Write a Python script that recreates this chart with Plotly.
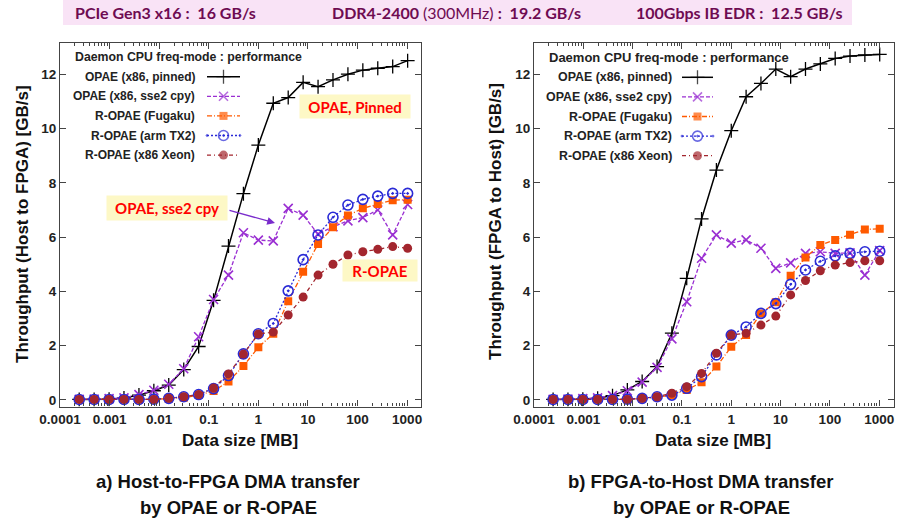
import plotly.graph_objects as go

# ---------------- data ----------------
sizes_mb = [0.000244, 0.000488, 0.000977, 0.00195, 0.00391, 0.00781, 0.0156, 0.0313,
            0.0625, 0.125, 0.25, 0.5, 1, 2, 4, 8, 16, 32, 64, 128, 256, 512, 1024]

series_names = ["OPAE (x86, pinned)", "OPAE (x86, sse2 cpy)", "R-OPAE (Fugaku)",
                "R-OPAE (arm TX2)", "R-OPAE (x86 Xeon)"]

# a) Host-to-FPGA
pinned_h2f = [0.02, 0.02, 0.03, 0.07, 0.18, 0.34, 0.55, 1.12, 1.97, 3.67, 5.67, 7.60,
              9.39, 10.93, 11.14, 11.70, 11.54, 11.79, 12.00, 12.15, 12.22, 12.28, 12.50]
sse2_h2f = [0.02, 0.03, 0.05, 0.08, 0.20, 0.36, 0.58, 1.15, 2.33, 3.70, 4.60, 6.16,
            5.89, 5.86, 7.06, 6.81, 6.11, 6.38, 6.60, 6.72, 7.00, 6.08, 7.20]
fugaku_h2f = [0.02, 0.02, 0.02, 0.02, 0.02, 0.03, 0.05, 0.08, 0.18, 0.33, 0.68, 1.25,
              1.94, 2.44, 3.64, 4.72, 5.75, 6.36, 6.80, 7.06, 7.22, 7.36, 7.38]
tx2_h2f = [0.02, 0.02, 0.02, 0.02, 0.02, 0.03, 0.06, 0.12, 0.20, 0.42, 0.90, 1.70,
           2.44, 2.82, 4.02, 5.17, 6.08, 6.73, 7.18, 7.39, 7.51, 7.61, 7.61]
xeon_h2f = [0.02, 0.02, 0.02, 0.02, 0.02, 0.02, 0.06, 0.12, 0.20, 0.44, 0.96, 1.69,
            2.43, 2.50, 3.13, 3.79, 4.60, 5.00, 5.34, 5.46, 5.55, 5.65, 5.59]

# b) FPGA-to-Host
pinned_f2h = [0.02, 0.02, 0.03, 0.06, 0.16, 0.37, 0.68, 1.23, 2.46, 4.48, 6.67, 8.47,
              9.92, 11.17, 11.66, 12.19, 11.91, 12.19, 12.38, 12.58, 12.67, 12.71, 12.73]
sse2_f2h = [0.02, 0.03, 0.05, 0.08, 0.16, 0.34, 0.66, 1.20, 2.25, 3.62, 5.22, 6.08,
            5.78, 5.90, 5.59, 4.85, 5.05, 5.40, 5.46, 5.40, 5.42, 4.60, 5.50]
fugaku_f2h = [0.02, 0.02, 0.02, 0.02, 0.02, 0.03, 0.05, 0.10, 0.18, 0.37, 0.65, 1.23,
              1.96, 2.39, 3.19, 3.60, 4.58, 5.25, 5.71, 5.89, 6.09, 6.28, 6.31]
tx2_f2h = [0.02, 0.02, 0.02, 0.02, 0.02, 0.03, 0.06, 0.12, 0.18, 0.43, 0.86, 1.66,
           2.39, 2.69, 3.19, 3.55, 4.26, 4.79, 5.11, 5.31, 5.40, 5.46, 5.48]
xeon_f2h = [0.02, 0.02, 0.02, 0.02, 0.02, 0.02, 0.06, 0.12, 0.25, 0.49, 0.98, 1.72,
            2.39, 2.46, 2.76, 3.09, 3.87, 4.40, 4.76, 4.97, 5.06, 5.13, 5.13]

x_tick_vals = [0.0001, 0.001, 0.01, 0.1, 1, 10, 100, 1000]
x_tick_text = ["0.0001", "0.001", "0.01", "0.1", "1", "10", "100", "1000"]
y_tick_vals = [0, 2, 4, 6, 8, 10, 12]

NB = "\u00a0"
banner_texts = ["<b>PCIe Gen3 x16 :" + NB + NB + "16 GB/s</b>",
                "<b>DDR4-2400</b> (300MHz) <b>:" + NB + NB + "19.2 GB/s</b>",
                "<b>100Gbps IB EDR :" + NB + NB + "12.5 GB/s</b>"]

# ---------------- helpers ----------------
W, H = 898, 522
def fx(px):
    return px / W
def fy(py):
    return 1 - py / H

def text_ann(px, py, text, font, xanchor="center", yanchor="middle", **kw):
    d = dict(x=fx(px), y=fy(py), xref="paper", yref="paper", xanchor=xanchor, yanchor=yanchor,
             showarrow=False, text=text, font=font)
    d.update(kw)
    return d

styles = [
    dict(color="#000000", dash="solid", width=1.5,
         marker=dict(symbol="cross-thin", size=10, color="#000000", line=dict(color="#000000", width=1.3))),
    dict(color="#9a2fd2", dash="4px,2px", width=1.3,
         marker=dict(symbol="x-thin", size=9, color="#9a2fd2", line=dict(color="#9a2fd2", width=1.6))),
    dict(color="#ff5a00", dash="5px,2px,1px,2px", width=1.3,
         marker=dict(symbol="square", size=8, color="#ff5a00", line=dict(width=0))),
    dict(color="#2a2ad6", dash="2px,2px", width=1.3,
         marker=dict(symbol="circle-open-dot", size=10, color="#2a2ad6", line=dict(color="#2a2ad6", width=1.6))),
    dict(color="#a3262e", dash="4px,3px,1px,3px", width=1.3,
         marker=dict(symbol="circle", size=9, color="#a3262e", line=dict(width=0))),
]

fig = go.Figure()

left = [pinned_h2f, sse2_h2f, fugaku_h2f, tx2_h2f, xeon_h2f]
right = [pinned_f2h, sse2_f2h, fugaku_f2h, tx2_f2h, xeon_f2h]

for vals, st, nm in zip(left, styles, series_names):
    fig.add_trace(go.Scatter(x=sizes_mb, y=vals, mode="lines+markers", name=nm,
                             line=dict(color=st["color"], dash=st["dash"], width=st["width"]),
                             marker=st["marker"], xaxis="x", yaxis="y", showlegend=False))
for vals, st, nm in zip(right, styles, series_names):
    fig.add_trace(go.Scatter(x=sizes_mb, y=vals, mode="lines+markers", name=nm,
                             line=dict(color=st["color"], dash=st["dash"], width=st["width"]),
                             marker=st["marker"], xaxis="x2", yaxis="y2", showlegend=False))

# legend samples (drawn in an overlay pixel-space axis)
def legend_block(text_right, sx0, sx1, y0, head_x, head_y, head_size, entry_size):
    hf = dict(family="Liberation Sans", size=head_size, color="#222", weight="bold")
    ef = dict(family="Liberation Sans", size=entry_size, color="#222", weight="bold")
    ann = [text_ann(head_x, head_y, "Daemon CPU freq-mode : performance", hf, xanchor="left")]
    for k, (nm, st) in enumerate(zip(series_names, styles)):
        yy = y0 + 19.6 * k
        ann.append(text_ann(text_right, yy, nm, ef, xanchor="right"))
        m = dict(st["marker"])
        m["size"] = [0, st["marker"]["size"], 0]
        fig.add_trace(go.Scatter(x=[sx0, (sx0 + sx1) / 2, sx1], y=[yy, yy, yy], mode="lines+markers",
                                 line=dict(color=st["color"], dash=st["dash"], width=st["width"]),
                                 marker=m, xaxis="x3", yaxis="y3", showlegend=False, hoverinfo="skip"))
    return ann

annotations = []
annotations += legend_block(197, 207, 240, 76.7, 73, 56.5, 12.3, 12)
annotations += legend_block(674, 682, 713, 77.3, 547, 57, 13, 12.4)

axis_common = dict(showline=True, linecolor="#444", linewidth=1.2, mirror="ticks", ticks="inside",
                   ticklen=6, tickcolor="#444", showgrid=False, zeroline=False,
                   tickfont=dict(family="Liberation Sans", size=13.5, color="#222", weight="bold"))
minor_vals = [k * 10 ** e for e in range(-4, 4) for k in range(2, 10)]

xa = dict(type="log", tickmode="array", tickvals=x_tick_vals, ticktext=x_tick_text,
          minor=dict(ticks="inside", ticklen=3, tickcolor="#444", tickmode="array", tickvals=minor_vals),
          **axis_common)
ya = dict(range=[-0.24, 13.15], tickmode="array", tickvals=y_tick_vals, **axis_common)

fig.update_layout(
    width=W, height=H, margin=dict(l=0, r=0, t=0, b=0, autoexpand=False),
    paper_bgcolor="white", plot_bgcolor="rgba(0,0,0,0)",
    xaxis=dict(domain=[fx(60), fx(421)], range=[-4, 3.28], anchor="y", **xa),
    yaxis=dict(domain=[fy(406.5), fy(43)], anchor="x", **ya),
    xaxis2=dict(domain=[fx(534), fx(894)], range=[-4, 3.3], anchor="y2", **xa),
    yaxis2=dict(domain=[fy(406.5), fy(43)], anchor="x2", **ya),
    xaxis3=dict(domain=[0, 1], range=[0, W], anchor="y3", visible=False, fixedrange=True),
    yaxis3=dict(domain=[0, 1], range=[H, 0], anchor="x3", visible=False, fixedrange=True),
)

# banner
fig.add_shape(type="rect", xref="paper", yref="paper", x0=fx(63), x1=fx(852), y0=fy(25), y1=fy(0),
              fillcolor="#f9e3f6", line=dict(width=0), layer="below")
banner_font = dict(family="Lato", size=16, color="#6e0b52")
for txt, cx in zip(banner_texts, [73, 330, 634]):
    annotations.append(text_ann(cx, 13, txt, banner_font, xanchor="left"))

# axis titles
title_font = dict(family="Liberation Sans", size=17, color="#111", weight="bold")
annotations.append(text_ann(22, 224, "Throughput (Host to FPGA) [GB/s]", title_font, textangle=-90))
annotations.append(text_ann(495, 222, "Throughput (FPGA to Host) [GB/s]", title_font, textangle=-90))
annotations.append(text_ann(240, 440, "Data size [MB]", title_font))
annotations.append(text_ann(713, 440, "Data size [MB]", title_font))

# captions
cap_font = dict(family="Liberation Sans", size=18.5, color="#111", weight="bold")
for cx, l1 in [(228, "a) Host-to-FPGA DMA transfer"), (701, "b) FPGA-to-Host DMA transfer")]:
    annotations.append(text_ann(cx, 481, l1, cap_font))
    annotations.append(text_ann(cx, 507, "by OPAE or R-OPAE", cap_font))

# callout boxes
box_font = dict(family="Lato", size=15, color="#ff0000", weight="bold")
for txt, cx, cy, w, h in [("OPAE, Pinned", 355, 106.5, 110, 23),
                          ("OPAE, sse2 cpy", 167, 208, 120, 24),
                          ("R-OPAE", 380, 270, 74, 21)]:
    annotations.append(text_ann(cx, cy, txt, box_font, bgcolor="#fdf8c6", width=w, height=h,
                                borderpad=0))
annotations.append(dict(x=fx(275), y=fy(223), xref="paper", yref="paper", text="",
                        showarrow=True, ax=-47, ay=-13, arrowcolor="#7a2ccc", arrowwidth=1.3,
                        arrowhead=2, arrowsize=1.2))

fig.update_layout(annotations=annotations)
fig.write_html("out.html", config={"displayModeBar": False},
               post_script="document.body.style.margin='0';document.body.style.padding='0';")
